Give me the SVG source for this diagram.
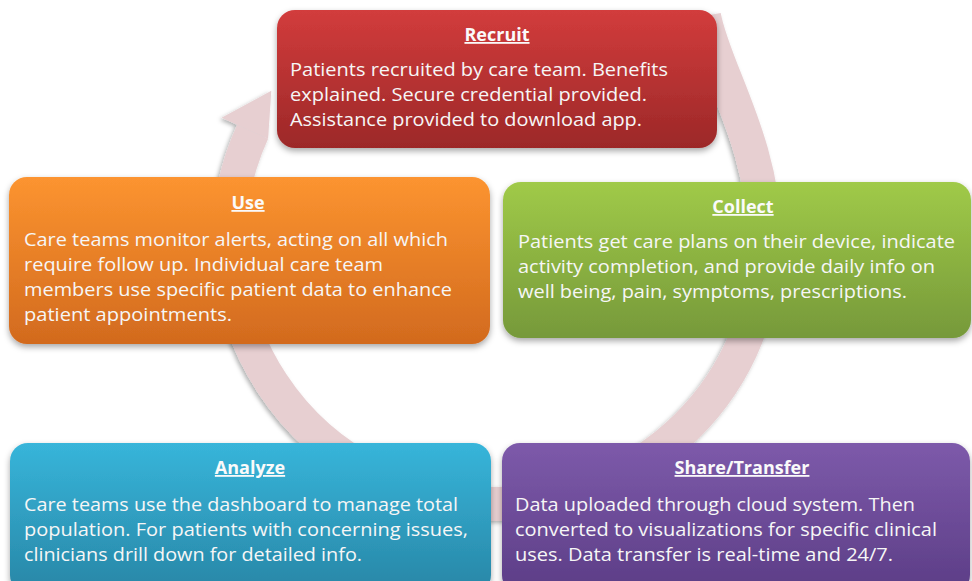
<svg xmlns="http://www.w3.org/2000/svg" width="972" height="581" viewBox="0 0 972 581">
<defs>
<linearGradient id="gRed" x1="0" y1="0" x2="0" y2="1"><stop offset="0" stop-color="#d23c3c"/><stop offset="1" stop-color="#9c2828"/></linearGradient>
<linearGradient id="gOrange" x1="0" y1="0" x2="0" y2="1"><stop offset="0" stop-color="#fc9430"/><stop offset="1" stop-color="#d26a1e"/></linearGradient>
<linearGradient id="gGreen" x1="0" y1="0" x2="0" y2="1"><stop offset="0" stop-color="#a0ca48"/><stop offset="1" stop-color="#76993a"/></linearGradient>
<linearGradient id="gBlue" x1="0" y1="0" x2="0" y2="1"><stop offset="0" stop-color="#37b5da"/><stop offset="1" stop-color="#2886a6"/></linearGradient>
<linearGradient id="gPurple" x1="0" y1="0" x2="0" y2="1"><stop offset="0" stop-color="#7d5aaa"/><stop offset="1" stop-color="#5c3d86"/></linearGradient>
<filter id="sh" x="-10%" y="-10%" width="120%" height="130%"><feDropShadow dx="0" dy="3" stdDeviation="3" flood-color="#000" flood-opacity="0.35"/></filter>
<filter id="rsh" x="-10%" y="-10%" width="120%" height="120%"><feDropShadow dx="-2" dy="2" stdDeviation="2" flood-color="#000" flood-opacity="0.3"/></filter>
</defs>
<style>
.title{font-family:"Open Sans","Liberation Sans",sans-serif;font-size:18px;font-weight:bold;fill:#fafafa;text-anchor:middle;text-decoration:underline}
.body{font-family:"Open Sans","Liberation Sans",sans-serif;font-size:17.5px;fill:#f6f6f6}
.box{filter:url(#sh)}
</style>
<g id="connectors" filter="url(#rsh)">
<path d="M704,16 C714,70 763,140 765,240 A268,264 0 0 1 497,504 A268,264 0 0 1 252.6,131.8" fill="none" stroke="#e7cfd1" stroke-width="34"/>
<polygon points="237.1,124.8 221.6,117.8 271.3,90.8 268.1,138.8" fill="#e7cfd1"/>
</g>
<g id="recruit">
<rect class="box" x="277" y="10" width="440" height="138" rx="18" fill="url(#gRed)"/>
<text class="title" x="497" y="41">Recruit</text>
<text class="body" x="290" y="76" textLength="378" lengthAdjust="spacingAndGlyphs">Patients recruited by care team. Benefits</text>
<text class="body" x="290" y="101" textLength="357" lengthAdjust="spacingAndGlyphs">explained. Secure credential provided.</text>
<text class="body" x="290" y="126" textLength="352" lengthAdjust="spacingAndGlyphs">Assistance provided to download app.</text>
</g>
<g id="use">
<rect class="box" x="9" y="177" width="481" height="167" rx="18" fill="url(#gOrange)"/>
<text class="title" x="248" y="209">Use</text>
<text class="body" x="24" y="246" textLength="424" lengthAdjust="spacingAndGlyphs">Care teams monitor alerts, acting on all which</text>
<text class="body" x="24" y="271" textLength="359" lengthAdjust="spacingAndGlyphs">require follow up. Individual care team</text>
<text class="body" x="24" y="296" textLength="428" lengthAdjust="spacingAndGlyphs">members use specific patient data to enhance</text>
<text class="body" x="24" y="321" textLength="208" lengthAdjust="spacingAndGlyphs">patient appointments.</text>
</g>
<g id="collect">
<rect class="box" x="503" y="182" width="468" height="156" rx="18" fill="url(#gGreen)"/>
<text class="title" x="743" y="213">Collect</text>
<text class="body" x="518" y="248" textLength="437" lengthAdjust="spacingAndGlyphs">Patients get care plans on their device, indicate</text>
<text class="body" x="518" y="273" textLength="417" lengthAdjust="spacingAndGlyphs">activity completion, and provide daily info on</text>
<text class="body" x="518" y="298" textLength="389" lengthAdjust="spacingAndGlyphs">well being, pain, symptoms, prescriptions.</text>
</g>
<g id="analyze">
<rect class="box" x="10" y="443" width="481" height="150" rx="18" fill="url(#gBlue)"/>
<text class="title" x="250" y="474">Analyze</text>
<text class="body" x="24" y="511" textLength="434" lengthAdjust="spacingAndGlyphs">Care teams use the dashboard to manage total</text>
<text class="body" x="24" y="536" textLength="444" lengthAdjust="spacingAndGlyphs">population. For patients with concerning issues,</text>
<text class="body" x="24" y="561" textLength="338" lengthAdjust="spacingAndGlyphs">clinicians drill down for detailed info.</text>
</g>
<g id="share-transfer">
<rect class="box" x="502" y="443" width="468" height="150" rx="18" fill="url(#gPurple)"/>
<text class="title" x="742" y="474">Share/Transfer</text>
<text class="body" x="515" y="511" textLength="400" lengthAdjust="spacingAndGlyphs">Data uploaded through cloud system. Then</text>
<text class="body" x="515" y="536" textLength="422" lengthAdjust="spacingAndGlyphs">converted to visualizations for specific clinical</text>
<text class="body" x="515" y="561" textLength="378" lengthAdjust="spacingAndGlyphs">uses. Data transfer is real-time and 24/7.</text>
</g>
</svg>
